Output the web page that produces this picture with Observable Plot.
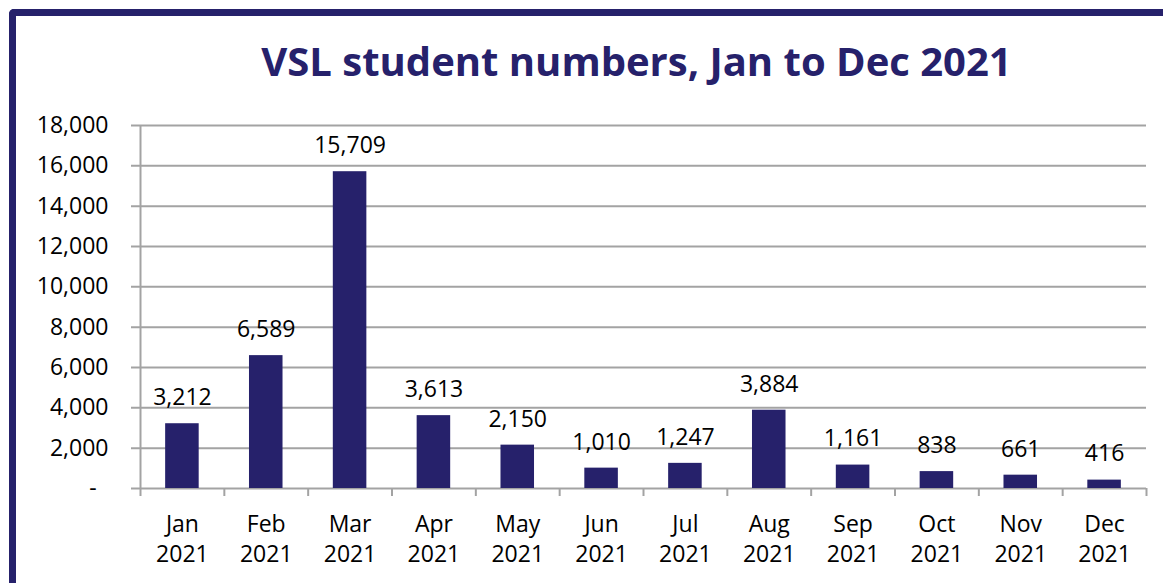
<!DOCTYPE html>
<html>
<head>
<meta charset="utf-8">
<script src="https://cdn.jsdelivr.net/npm/d3@7"></script>
<script src="https://cdn.jsdelivr.net/npm/@observablehq/plot@0.6"></script>
<style>
  html, body { margin: 0; padding: 0; background: #fff; }
  #page { position: relative; width: 1163px; height: 583px; overflow: hidden; background: #fff; }
  #frame { position: absolute; left: 9px; top: 9px; width: 1300px; height: 800px;
           border-top: 7px solid #26216B; border-left: 7px solid #26216B; border-top-left-radius: 5px; }
  #title { position: absolute; left: 130px; width: 1013px; top: 40px; line-height: 41px;
           text-align: center; font-family: "Open Sans", sans-serif; font-weight: 700;
           font-size: 40px; color: #26216B; white-space: nowrap; }
  #chart { position: absolute; left: 0; top: 100px; }
</style>
</head>
<body>
<div id="page">
  <div id="frame"></div>
  <div id="title">VSL student numbers, Jan to Dec 2021</div>
  <div id="chart"></div>
</div>
<script>
const months = ["Jan","Feb","Mar","Apr","May","Jun","Jul","Aug","Sep","Oct","Nov","Dec"];
const years = ["2021","2021","2021","2021","2021","2021","2021","2021","2021","2021","2021","2021"];
const students = [3212, 6589, 15709, 3613, 2150, 1010, 1247, 3884, 1161, 838, 661, 416];
const yTicks = [0, 2000, 4000, 6000, 8000, 10000, 12000, 14000, 16000, 18000];

const data = months.map((m, i) => ({month: m, year: years[i], value: students[i]}));

const navy = "#26216B";
const grid = "#A3A3A3";
const W = 1163, H = 483, mL = 140, mR = 17, mT = 25, mB = 95;
const step = (W - mL - mR) / months.length;
const fmt = d3.format(",");

const chart = Plot.plot({
  width: W, height: H,
  marginLeft: mL, marginRight: mR, marginTop: mT, marginBottom: mB,
  style: {fontFamily: "Open Sans", fontSize: "23px", color: "#000", background: "transparent"},
  x: {domain: months, paddingInner: 0.6, paddingOuter: 0.3, round: false, axis: null},
  y: {domain: [0, 18000], axis: null},
  marks: [
    Plot.ruleY(yTicks, {y: d => d, stroke: grid, strokeWidth: 2, insetLeft: -9}),
    Plot.ruleX([months[0]], {x: d => d, dx: -step / 2, y1: 18000, y2: 0, insetBottom: -8, stroke: grid, strokeWidth: 2}),
    Plot.ruleX(months.slice(1), {x: d => d, dx: -step / 2, y1: 0, y2: 0, insetBottom: -8, stroke: grid, strokeWidth: 2}),
    Plot.ruleX([months[months.length - 1]], {x: d => d, dx: step / 2, y1: 0, y2: 0, insetBottom: -8, stroke: grid, strokeWidth: 2}),
    Plot.barY(data, {x: "month", y: "value", fill: navy}),
    Plot.text(data, {x: "month", y: "value", text: d => fmt(d.value), dy: -26, fill: "#000"}),
    Plot.axisY({ticks: yTicks, tickSize: 0, tickPadding: 32, label: null,
                tickFormat: d => d === 0 ? "-\u00a0\u00a0" : fmt(d)}),
    Plot.axisX({tickSize: 0, tickPadding: 27, label: null, tickFormat: d => d}),
    Plot.axisX({tickSize: 0, tickPadding: 57, label: null, tickFormat: d => years[months.indexOf(d)]})
  ]
});
document.getElementById("chart").appendChild(chart);
</script>
</body>
</html>
